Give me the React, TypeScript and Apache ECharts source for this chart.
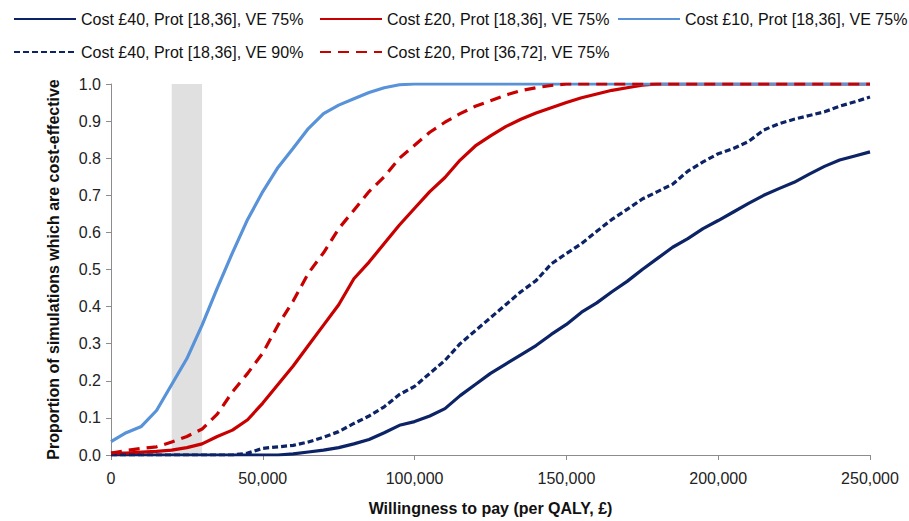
import React, { useEffect, useRef } from "react";
import * as echarts from "echarts";

const wtp = [
  0, 5000, 10000, 15000, 20000, 25000, 30000, 35000, 40000, 45000,
  50000, 55000, 60000, 65000, 70000, 75000, 80000, 85000, 90000, 95000,
  100000, 105000, 110000, 115000, 120000, 125000, 130000, 135000, 140000, 145000,
  150000, 155000, 160000, 165000, 170000, 175000, 180000, 185000, 190000, 195000,
  200000, 205000, 210000, 215000, 220000, 225000, 230000, 235000, 240000, 245000,
  250000,
];

const seriesNames = [
  "Cost £40, Prot [18,36], VE 75%",
  "Cost £20, Prot [18,36], VE 75%",
  "Cost £10, Prot [18,36], VE 75%",
  "Cost £40, Prot [18,36], VE 90%",
  "Cost £20, Prot [36,72], VE 75%",
];

const cost40ve75 = [
  0, 0, 0, 0, 0, 0, 0, 0, 0, 0, 0, 0,
  0.003, 0.008, 0.013, 0.02, 0.03, 0.042, 0.06, 0.08, 0.09, 0.105,
  0.125, 0.16, 0.19, 0.22, 0.245, 0.27, 0.295, 0.325, 0.352, 0.385,
  0.41, 0.44, 0.468, 0.5, 0.53, 0.56, 0.583, 0.61, 0.632, 0.655,
  0.678, 0.7, 0.718, 0.735, 0.757, 0.778, 0.795, 0.806, 0.817,
];

const cost20p18 = [
  0.005, 0.005, 0.008, 0.01, 0.013, 0.02, 0.03, 0.05, 0.067, 0.095,
  0.14, 0.19, 0.24, 0.295, 0.35, 0.405, 0.475, 0.52, 0.57, 0.62,
  0.665, 0.71, 0.748, 0.795, 0.833, 0.86, 0.885, 0.905, 0.922, 0.936,
  0.95, 0.963, 0.973, 0.983, 0.99, 0.997, 1, 1, 1, 1,
  1, 1, 1, 1, 1, 1, 1, 1, 1, 1, 1,
];

const cost10p18 = [
  0.036, 0.06, 0.077, 0.12, 0.19, 0.26, 0.35, 0.45, 0.545, 0.635,
  0.71, 0.775, 0.827, 0.88, 0.92, 0.943, 0.96, 0.977, 0.99, 0.998,
  1, 1, 1, 1, 1, 1, 1, 1, 1, 1,
  1, 1, 1, 1, 1, 1, 1, 1, 1, 1,
  1, 1, 1, 1, 1, 1, 1, 1, 1, 1, 1,
];

const cost40ve90 = [
  0, 0, 0, 0, 0, 0, 0, 0, 0,
  0.005, 0.018, 0.022, 0.026, 0.035, 0.048, 0.063, 0.085, 0.105, 0.13,
  0.163, 0.185, 0.22, 0.255, 0.3, 0.335, 0.37, 0.405, 0.44, 0.47,
  0.515, 0.543, 0.57, 0.603, 0.635, 0.662, 0.69, 0.71, 0.73, 0.765,
  0.79, 0.812, 0.826, 0.845, 0.876, 0.893, 0.905, 0.915, 0.925, 0.94,
  0.952, 0.965,
];

const cost20p36 = [
  0.005, 0.012, 0.018, 0.022, 0.035, 0.05, 0.07, 0.11, 0.17, 0.22,
  0.275, 0.35, 0.415, 0.49, 0.545, 0.61, 0.66, 0.71, 0.75, 0.8,
  0.835, 0.87, 0.897, 0.92, 0.94, 0.955, 0.97, 0.982, 0.99, 0.996,
  1, 1, 1, 1, 1, 1, 1, 1, 1, 1,
  1, 1, 1, 1, 1, 1, 1, 1, 1, 1, 1,
];

const yTicks = ["0.0", "0.1", "0.2", "0.3", "0.4", "0.5", "0.6", "0.7", "0.8", "0.9", "1.0"];
const thresholdBand = [20000, 30000];

const NAVY = "#0c2366";
const RED = "#c80000";
const LIGHT = "#5892d8";
const FONT = "'Liberation Sans', Arial, sans-serif";

const pairs = (vals: number[]) => wtp.map((x, i) => [x, vals[i]]);

export default function App() {
  const ref = useRef<HTMLDivElement>(null);
  useEffect(() => {
    document.body.style.margin = "0";
    const chart = echarts.init(ref.current!, null, { renderer: "svg" });
    const legendText = { fontFamily: FONT, fontSize: 16, color: "#111" };
    const legendBase = {
      orient: "vertical",
      top: 6,
      itemWidth: 62,
      itemHeight: 14,
      itemGap: 17,
      textStyle: legendText,
      itemStyle: { opacity: 0 },
      selectedMode: false,
    };
    const option: any = {
      animation: false,
      backgroundColor: "#ffffff",
      legend: [
        { ...legendBase, left: 8, data: [seriesNames[0], seriesNames[3]] },
        { ...legendBase, left: 314, data: [seriesNames[1], seriesNames[4]] },
        { ...legendBase, left: 612, data: [seriesNames[2]] },
      ],
      grid: { left: 111, right: 39, top: 84, bottom: 63, containLabel: false },
      xAxis: {
        type: "value",
        min: 0,
        max: 250000,
        interval: 50000,
        name: "Willingness to pay (per QALY, £)",
        nameLocation: "middle",
        nameGap: 45,
        nameTextStyle: { fontFamily: FONT, fontSize: 16, fontWeight: "bold", color: "#111" },
        axisLine: { lineStyle: { color: "#8c8c8c", width: 1 } },
        axisTick: { show: true, length: 5, lineStyle: { color: "#8c8c8c" } },
        axisLabel: {
          fontFamily: FONT,
          fontSize: 16,
          color: "#222",
          margin: 15,
          formatter: (v: number) => v.toLocaleString("en-GB"),
        },
        splitLine: { show: false },
      },
      yAxis: {
        type: "value",
        min: 0,
        max: 1,
        interval: 0.1,
        name: "Proportion of simulations which are cost-effective",
        nameLocation: "middle",
        nameGap: 50,
        nameTextStyle: { fontFamily: FONT, fontSize: 16, fontWeight: "bold", color: "#111" },
        axisLine: { show: true, lineStyle: { color: "#8c8c8c", width: 1 } },
        axisTick: { show: true, length: 5, lineStyle: { color: "#8c8c8c" } },
        axisLabel: {
          fontFamily: FONT,
          fontSize: 16,
          color: "#222",
          margin: 10,
          formatter: (v: number) => yTicks[Math.round(v * 10)],
        },
        splitLine: { show: false },
      },
      series: [
        {
          name: seriesNames[0],
          type: "line",
          data: pairs(cost40ve75),
          symbol: "none",
          lineStyle: { color: NAVY, width: 3.2 },
          itemStyle: { color: NAVY },
          markArea: {
            silent: true,
            itemStyle: { color: "#e0e0e0" },
            data: [[{ xAxis: thresholdBand[0] }, { xAxis: thresholdBand[1] }]],
          },
        },
        {
          name: seriesNames[1],
          type: "line",
          data: pairs(cost20p18),
          symbol: "none",
          lineStyle: { color: RED, width: 3.2 },
          itemStyle: { color: RED },
        },
        {
          name: seriesNames[2],
          type: "line",
          data: pairs(cost10p18),
          symbol: "none",
          lineStyle: { color: LIGHT, width: 3.2 },
          itemStyle: { color: LIGHT },
        },
        {
          name: seriesNames[3],
          type: "line",
          data: pairs(cost40ve90),
          symbol: "none",
          lineStyle: { color: NAVY, width: 3.2, type: [6, 3] },
          itemStyle: { color: NAVY },
        },
        {
          name: seriesNames[4],
          type: "line",
          data: pairs(cost20p36),
          symbol: "none",
          lineStyle: { color: RED, width: 3.2, type: [11, 7] },
          itemStyle: { color: RED },
        },
      ],
    };
    chart.setOption(option);
    return () => chart.dispose();
  }, []);
  return <div ref={ref} style={{ width: 909, height: 521 }} />;
}
